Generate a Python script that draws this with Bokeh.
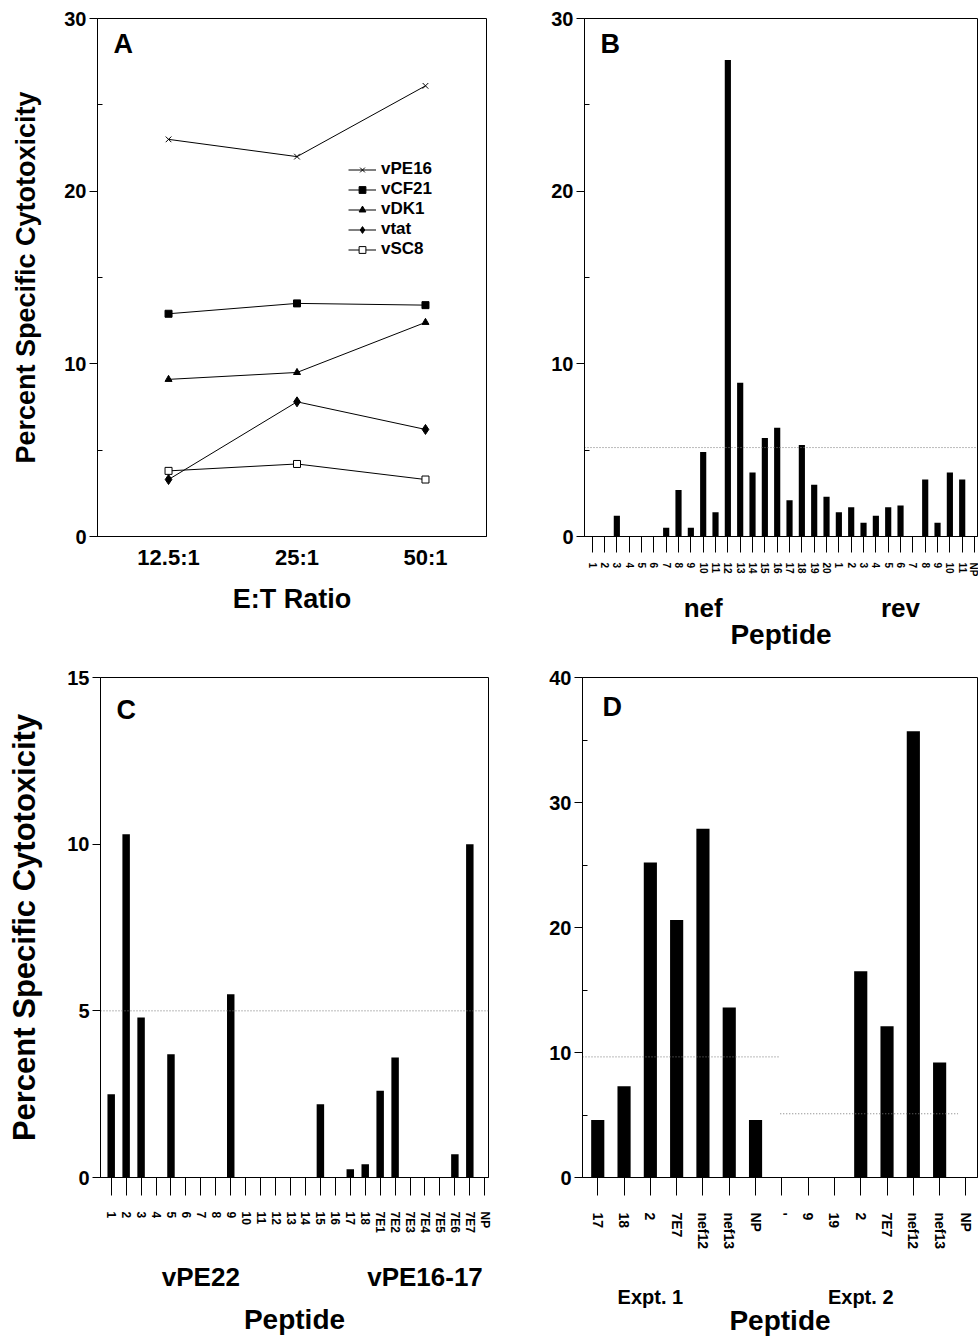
from bokeh.plotting import figure
from bokeh.models import Range1d, FixedTicker, LinearAxis, Label, Legend, LegendItem
from bokeh.layouts import column, row
from bokeh.embed import file_html
from bokeh.resources import INLINE

FONT = "Liberation Sans"

# ---------------- Panel A data ----------------
et_ratios = ["12.5:1", "25:1", "50:1"]
vPE16 = [23.0, 22.0, 26.1]
vCF21 = [12.9, 13.5, 13.4]
vDK1 = [9.1, 9.5, 12.4]
vtat = [3.3, 7.8, 6.2]
vSC8 = [3.8, 4.2, 3.3]

# ---------------- Panel B data ----------------
b_labels = ["1", "2", "3", "4", "5", "6", "7", "8", "9", "10",
            "11", "12", "13", "14", "15", "16", "17", "18", "19", "20",
            "1", "2", "3", "4", "5", "6", "7", "8", "9", "10", "11", "NP"]
b_values = [0, 0, 1.2, 0, 0, 0, 0.5, 2.7, 0.5, 4.9,
            1.4, 27.6, 8.9, 3.7, 5.7, 6.3, 2.1, 5.3, 3.0, 2.3,
            1.4, 1.7, 0.8, 1.2, 1.7, 1.8, 0, 3.3, 0.8, 3.7, 3.3, 0]
b_groups = ["nef", "rev"]
b_threshold = 5.15

# ---------------- Panel C data ----------------
c_labels = ["1", "2", "3", "4", "5", "6", "7", "8", "9", "10",
            "11", "12", "13", "14", "15", "16", "17", "18",
            "7E1", "7E2", "7E3", "7E4", "7E5", "7E6", "7E7", "NP"]
c_values = [2.5, 10.3, 4.8, 0, 3.7, 0, 0, 0, 5.5, 0,
            0, 0, 0, 0, 2.2, 0, 0.25, 0.4,
            2.6, 3.6, 0, 0, 0, 0.7, 10.0, 0]
c_groups = ["vPE22", "vPE16-17"]
c_threshold = 5.0

# ---------------- Panel D data ----------------
d_labels = ["17", "18", "2", "7E7", "nef12", "nef13", "NP",
            "'", "9", "19", "2", "7E7", "nef12", "nef13", "NP"]
d_values = [4.6, 7.3, 25.2, 20.6, 27.9, 13.6, 4.6,
            0, 0, 0, 16.5, 12.1, 35.7, 9.2, 0]
d_groups = ["Expt. 1", "Expt. 2"]
d_thresholds = [9.65, 5.1]


def base_fig(width, height, xr, yr, mbl, mbr, mbt, mbb):
    p = figure(width=width, height=height, x_range=Range1d(*xr), y_range=Range1d(*yr),
               output_backend="svg", toolbar_location=None,
               min_border_left=mbl, min_border_right=mbr,
               min_border_top=mbt, min_border_bottom=mbb)
    p.xgrid.visible = False
    p.ygrid.visible = False
    p.outline_line_color = "black"
    p.outline_line_width = 1
    p.background_fill_color = "white"
    p.border_fill_color = "white"
    return p


def style_y(p, ticks, minor, title=None, title_standoff=20, title_size="27px"):
    ax = p.yaxis[0]
    ax.ticker = FixedTicker(ticks=ticks, minor_ticks=minor)
    ax.major_tick_out = 8
    ax.major_tick_in = 0
    ax.minor_tick_in = 5
    ax.minor_tick_out = 0
    ax.axis_line_color = "black"
    ax.major_label_text_font = FONT
    ax.major_label_text_font_style = "bold"
    ax.major_label_text_font_size = "20px"
    ax.major_label_text_color = "black"
    ax.major_label_standoff = 3
    if title:
        ax.axis_label = title
        ax.axis_label_text_font = FONT
        ax.axis_label_text_font_style = "bold"
        ax.axis_label_text_font_size = title_size
        ax.axis_label_text_color = "black"
        ax.axis_label_standoff = title_standoff


def style_peptide_x(p, labels, fsize, tick_len, lab_standoff, groups, group_pos,
                    group_size, group_standoff, title_standoff):
    ax = p.xaxis[0]
    pos = list(range(1, len(labels) + 1))
    ax.ticker = FixedTicker(ticks=pos, minor_ticks=[])
    ax.major_label_overrides = {i: lab for i, lab in zip(pos, labels)}
    ax.major_label_orientation = "vertical"
    ax.major_tick_out = tick_len
    ax.major_tick_in = 0
    ax.major_tick_line_color = "black"
    ax.axis_line_color = "black"
    ax.major_label_text_font = FONT
    ax.major_label_text_font_style = "bold"
    ax.major_label_text_font_size = fsize
    ax.major_label_text_color = "black"
    ax.major_label_standoff = lab_standoff
    gax = LinearAxis(ticker=FixedTicker(ticks=group_pos, minor_ticks=[]),
                     major_label_overrides={gp: g for gp, g in zip(group_pos, groups)},
                     axis_line_color=None, major_tick_line_color=None,
                     minor_tick_line_color=None,
                     major_label_text_font=FONT, major_label_text_font_style="bold",
                     major_label_text_font_size=group_size, major_label_text_color="black",
                     major_label_standoff=group_standoff,
                     axis_label="Peptide", axis_label_text_font=FONT,
                     axis_label_text_font_style="bold", axis_label_text_font_size="28px",
                     axis_label_text_color="black", axis_label_standoff=title_standoff)
    p.add_layout(gax, "below")


def panel_letter(p, text, x, y):
    p.add_layout(Label(x=x, y=y, text=text, text_font=FONT, text_font_style="bold",
                       text_font_size="27px", text_color="black",
                       text_baseline="top", text_align="left"))


# ---------------- Panel A ----------------
pA = base_fig(535, 660, (0.447, 3.475), (0, 30), 97, 49, 18, 124)
xs = [1, 2, 3]
series = [("vPE16", vPE16, "x", "black", 8),
          ("vCF21", vCF21, "square", "black", 7),
          ("vDK1", vDK1, "triangle", "black", 7),
          ("vtat", vtat, "diamond", "black", 10),
          ("vSC8", vSC8, "square", "white", 7)]
items = []
for name, ys, mk, fill, sz in series:
    ln = pA.line(xs, ys, line_color="black", line_width=1)
    sc = pA.scatter(xs, ys, marker=mk, size=sz, fill_color=fill, line_color="black", line_width=1)
    items.append(LegendItem(label=name, renderers=[ln, sc]))
leg = Legend(items=items, location=(251, 277), border_line_color=None,
             background_fill_alpha=0, label_text_font=FONT, label_text_font_style="bold",
             label_text_font_size="17px", label_text_color="black",
             glyph_width=28, glyph_height=17, label_height=17, spacing=0,
             padding=0, margin=0, label_standoff=5)
pA.add_layout(leg, "center")
style_y(pA, [0, 10, 20, 30], [5, 15, 25], "Percent Specific Cytotoxicity", 20)
axA = pA.xaxis[0]
axA.ticker = FixedTicker(ticks=xs, minor_ticks=[])
axA.major_label_overrides = {x: r for x, r in zip(xs, et_ratios)}
axA.major_tick_out = 0
axA.major_tick_in = 0
axA.minor_tick_line_color = None
axA.major_label_text_font = FONT
axA.major_label_text_font_style = "bold"
axA.major_label_text_font_size = "22px"
axA.major_label_text_color = "black"
axA.major_label_standoff = 8
axA.axis_label = "E:T Ratio"
axA.axis_label_text_font = FONT
axA.axis_label_text_font_style = "bold"
axA.axis_label_text_font_size = "27px"
axA.axis_label_text_color = "black"
axA.axis_label_standoff = 11
panel_letter(pA, "A", 0.572, 29.4)

# ---------------- Panel B ----------------
pB = base_fig(443, 660, (0.378, 32.24), (0, 30), 49, 1, 18, 124)
bx = list(range(1, len(b_values) + 1))
pB.vbar(x=bx, top=b_values, width=0.5, fill_color="black", line_color=None)
pB.line([0.378, 32.24], [b_threshold, b_threshold], line_color="#777777",
        line_width=1, line_dash="1 2")
style_y(pB, [0, 10, 20, 30], [5, 15, 25])
style_peptide_x(pB, b_labels, "10px", 16, 10, b_groups, [10, 26], "26px", 7, -7)
panel_letter(pB, "B", 1.675, 29.4)

# ---------------- Panel C ----------------
pC = base_fig(535, 678, (0.284, 26.25), (0, 15), 100, 47, 17, 161)
cx = list(range(1, len(c_values) + 1))
pC.vbar(x=cx, top=c_values, width=0.5, fill_color="black", line_color=None)
pC.line([0.284, 26.25], [c_threshold, c_threshold], line_color="#777777",
        line_width=1, line_dash="1 2")
style_y(pC, [0, 5, 10, 15], [], "Percent Specific Cytotoxicity", 22, "31px")
style_peptide_x(pC, c_labels, "12px", 18, 16, c_groups, [7, 22], "26px", 20, 9)
panel_letter(pC, "C", 1.355, 14.49)

# ---------------- Panel D ----------------
pD = base_fig(443, 678, (0.42, 15.44), (0, 40), 47, 1, 17, 161)
dx = list(range(1, len(d_values) + 1))
pD.vbar(x=dx, top=d_values, width=0.5, fill_color="black", line_color=None)
pD.line([0.42, 7.94], [d_thresholds[0], d_thresholds[0]], line_color="#777777",
        line_width=1, line_dash="1 2")
pD.line([7.94, 14.7], [d_thresholds[1], d_thresholds[1]], line_color="#777777",
        line_width=1, line_dash="1 2")
style_y(pD, [0, 10, 20, 30, 40], [5, 15, 25, 35])
style_peptide_x(pD, d_labels, "14px", 18, 17, d_groups, [3, 11], "20px", 27, -6)
panel_letter(pD, "D", 1.18, 38.88)

layout = column(row(pA, pB), row(pC, pD))
open("out.html", "w").write(file_html(layout, INLINE))
